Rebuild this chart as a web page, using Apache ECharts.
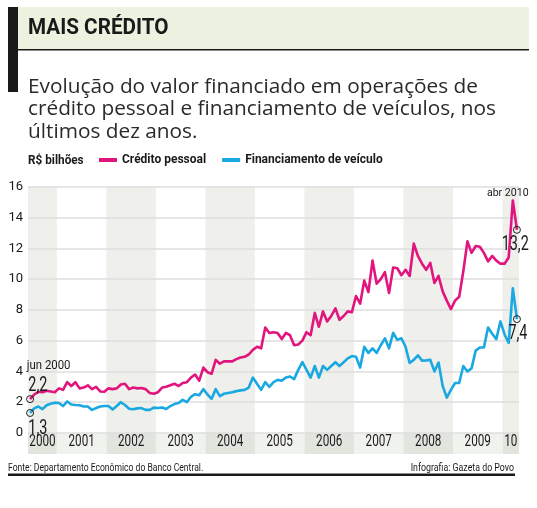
<!DOCTYPE html>
<html><head><meta charset="utf-8">
<script src="https://cdn.jsdelivr.net/npm/echarts@6/dist/echarts.min.js"></script>
<style>html,body{margin:0;padding:0;background:#fff}#c{width:537px;height:508px}</style>
</head><body><div id="c"></div>
<script>
// ---- data ----
const years = ['2000','2001','2002','2003','2004','2005','2006','2007','2008','2009','10'];
const monthsInYear = [7,12,12,12,12,12,12,12,12,12,4];
const firstLabel = 'jun 2000';
const lastLabel = 'abr 2010';
const creditoPessoal = [
  2.2, 2.5, 2.68, 2.65, 2.75, 2.7, 2.65,
  2.9, 2.8, 3.3, 3.05, 3.3, 2.9, 2.95, 3.1, 2.85, 3.0, 2.7, 2.68,
  2.9, 2.85, 2.9, 3.15, 3.2, 2.85, 2.95, 2.9, 2.92, 2.85, 2.6, 2.55,
  2.65, 2.95, 3.0, 3.1, 3.2, 3.05, 3.25, 3.3, 3.6, 3.8, 3.4, 4.25,
  3.95, 3.85, 4.75, 4.5, 4.65, 4.65, 4.65, 4.8, 4.9, 4.95, 5.1, 5.4,
  5.6, 5.5, 6.85, 6.5, 6.55, 6.5, 6.1, 6.5, 6.35, 5.7, 5.75, 6.0,
  6.55, 6.35, 7.8, 6.9, 7.9, 7.25, 7.6, 8.1, 7.35, 7.6, 7.9, 7.85,
  8.9, 8.4, 9.9, 9.15, 11.2, 9.7, 10.0, 10.45, 9.1, 10.75, 10.7, 10.25,
  10.6, 10.2, 12.3, 11.5, 11.0, 10.6, 11.05, 9.75, 10.2, 9.2, 8.6, 8.05,
  8.6, 8.85, 10.5, 12.45, 11.7, 12.15, 12.1, 11.7, 11.15, 11.5, 11.2, 11.0,
  11.0, 11.4, 15.1, 13.2
];
const financiamentoVeiculo = [
  1.3, 1.6, 1.72, 1.55, 1.8, 1.9, 1.97,
  1.95, 1.75, 2.05, 1.85, 1.82, 1.8, 1.72, 1.72, 1.5, 1.62, 1.72, 1.75,
  1.75, 1.52, 1.75, 2.0, 1.82, 1.58, 1.54, 1.6, 1.62, 1.5, 1.5, 1.65,
  1.62, 1.66, 1.56, 1.75, 1.88, 1.95, 2.15, 2.0, 2.35, 2.52, 2.45, 2.85,
  2.5, 2.22, 2.85, 2.4, 2.55, 2.6, 2.65, 2.72, 2.77, 2.8, 2.95, 3.6,
  3.2, 2.8, 3.3, 3.0, 3.3, 3.45, 3.4, 3.6, 3.67, 3.5, 4.1, 4.6,
  4.1, 3.6, 4.35, 3.6, 4.35, 4.1, 4.35, 4.6, 4.35, 4.6, 4.85, 5.0,
  4.95, 4.25, 5.6, 5.2, 5.5, 5.2, 5.7, 6.15, 5.5, 6.5, 6.05, 6.15,
  5.6, 4.55, 4.75, 5.05, 4.7, 4.72, 4.75, 4.0, 4.58, 3.05, 2.3, 2.8,
  3.25, 3.25, 4.35, 4.0, 4.2, 5.35, 5.55, 5.55, 6.85, 6.45, 6.1, 7.25,
  6.4, 5.85, 9.4, 7.4
];
const yMin = 0, yMax = 16, yStep = 2;

// ---- build ----
const F = "Roboto, sans-serif";
const INK = '#1a1a1a';
const PINK = '#e2147e', BLUE = '#1aa8e0';
const nMonths = monthsInYear.reduce((a, b) => a + b, 0);
const bands = []; let acc = 0;
monthsInYear.forEach((m, i) => { bands.push([acc, acc + m, i]); acc += m; });
const toXY = arr => arr.map((v, i) => [i + 0.5, v]);
const fmt = v => String(v).replace('.', ',');
const last = creditoPessoal.length - 1;

// end-point annotations (values taken from the series)
const annotPoints = [
  [0.5, creditoPessoal[0]],
  [0.5, financiamentoVeiculo[0]],
  [last + 0.5, creditoPessoal[last]],
  [last + 0.5, financiamentoVeiculo[last]]
];
const NUM = '20px ' + F;
const annotTexts = [
  [ { text: firstLabel, dx: -3.3, dy: -33, align: 'left', font: '12px ' + F, sx: 0.95 },
    { text: fmt(creditoPessoal[0]), dx: -1.7, dy: -12.8, align: 'left', font: NUM, sx: 0.72 } ],
  [ { text: fmt(financiamentoVeiculo[0]), dx: -1.7, dy: 16.2, align: 'left', font: NUM, sx: 0.72 } ],
  [ { text: lastLabel, dx: -9.2, dy: -36.4, align: 'center', font: '11.5px ' + F, sx: 0.92 },
    { text: fmt(creditoPessoal[last]), dx: -1.7, dy: 15.6, align: 'center', font: NUM, sx: 0.72 } ],
  [ { text: fmt(financiamentoVeiculo[last]), dx: 1, dy: 15.4, align: 'center', font: NUM, sx: 0.72 } ]
];

const gText = (text, x, y, font, sx, align) => ({
  type: 'text', x: x, y: y, scaleX: sx, silent: true, z: 5,
  style: { text: text, font: font, fill: INK, align: align || 'left', verticalAlign: 'middle' }
});

const chart = echarts.init(document.getElementById('c'), null, { renderer: 'canvas' });
chart.setOption({
  animation: false,
  backgroundColor: '#fff',
  graphic: [
    { type: 'rect', shape: { x: 18, y: 7, width: 511, height: 43 }, style: { fill: '#ebf2df' }, z: -10 },
    { type: 'rect', shape: { x: 18, y: 49, width: 511, height: 1.5 }, style: { fill: INK }, z: -9 },
    { type: 'rect', shape: { x: 8, y: 7, width: 10, height: 85 }, style: { fill: INK }, z: -9 },
    { type: 'rect', shape: { x: 8, y: 473.5, width: 507, height: 2.5 }, style: { fill: INK }, z: -9 },
    gText('MAIS CRÉDITO', 28, 28.7, 'bold 22px ' + F, 0.94),
    gText('R$ bilhões', 28, 160.5, 'bold 12px ' + F, 0.98),
    gText('Fonte: Departamento Econômico do Banco Central.', 8, 468.3, '11px ' + F, 0.78),
    gText('Infografia: Gazeta do Povo', 514, 468.3, '11px ' + F, 0.8, 'right')
  ],
  title: [
    { text: 'Evolução do valor financiado em operações de\ncrédito pessoal e financiamento de veículos, nos\núltimos dez anos.',
      left: 28, top: 76, padding: 0,
      textStyle: { fontFamily: "'Open Sans',sans-serif", fontWeight: 'normal', fontSize: 20.8, lineHeight: 22.3, color: '#2a2a2a' } }
  ],
  legend: {
    left: 99, top: 154, padding: 0, itemWidth: 18, itemHeight: 4, itemGap: 16, icon: 'rect',
    textStyle: { fontFamily: F, fontWeight: 'bold', fontSize: 12, color: INK },
    data: ['Crédito pessoal', 'Financiamento de veículo']
  },
  grid: [
    { left: 28, right: 18, top: 186.7, height: 246.3 },
    { left: 28, right: 18, top: 433, height: 21 }
  ],
  xAxis: [
    { type: 'value', gridIndex: 0, min: 0, max: nMonths, show: false },
    { type: 'value', gridIndex: 1, min: 0, max: nMonths, show: false }
  ],
  yAxis: [
    { type: 'value', gridIndex: 0, min: yMin, max: yMax, interval: yStep, z: 1,
      axisLine: { show: false }, axisTick: { show: false },
      splitLine: { lineStyle: { color: '#dedede', width: 1.5 } },
      axisLabel: { margin: 5, color: INK, fontSize: 13, fontFamily: F } },
    { type: 'value', gridIndex: 1, min: 0, max: 1, show: false }
  ],
  series: [
    { type: 'custom', name: 'bands', xAxisIndex: 0, yAxisIndex: 0, z: 0, silent: true,
      data: bands.filter(b => b[2] % 2 === 0),
      encode: { x: [0, 1] },
      renderItem: (params, api) => {
        const p0 = api.coord([api.value(0), yMax]);
        const p1 = api.coord([api.value(1), yMin]);
        return { type: 'rect', shape: { x: p0[0], y: p0[1], width: p1[0] - p0[0], height: p1[1] - p0[1] },
                 style: { fill: '#efefeb' } };
      } },
    { type: 'custom', name: 'strip', xAxisIndex: 1, yAxisIndex: 1, z: 0, silent: true,
      data: bands, encode: { x: [0, 1] },
      renderItem: (params, api) => {
        const idx = api.value(2);
        const p0 = api.coord([api.value(0), 1]);
        const p1 = api.coord([api.value(1), 0]);
        return { type: 'group', children: [
          { type: 'rect', shape: { x: p0[0], y: p0[1], width: p1[0] - p0[0], height: p1[1] - p0[1] },
            style: { fill: idx % 2 === 0 ? '#e1e5de' : '#f0f2ee' } },
          { type: 'text', x: (p0[0] + p1[0]) / 2, y: (p0[1] + p1[1]) / 2 - 1.5, scaleX: 0.73,
            style: { text: years[idx], fill: INK, font: '16px ' + F, align: 'center', verticalAlign: 'middle' } }
        ] };
      } },
    { type: 'line', name: 'Crédito pessoal', xAxisIndex: 0, yAxisIndex: 0, z: 3,
      data: toXY(creditoPessoal), symbol: 'none', showSymbol: false, color: PINK,
      lineStyle: { width: 2.6, color: PINK, join: 'round' } },
    { type: 'line', name: 'Financiamento de veículo', xAxisIndex: 0, yAxisIndex: 0, z: 3,
      data: toXY(financiamentoVeiculo), symbol: 'none', showSymbol: false, color: BLUE,
      lineStyle: { width: 2.6, color: BLUE, join: 'round' } },
    { type: 'custom', name: 'annotations', xAxisIndex: 0, yAxisIndex: 0, z: 4, silent: true,
      data: annotPoints, encode: { x: 0, y: 1 },
      renderItem: (params, api) => {
        const p = api.coord([api.value(0), api.value(1)]);
        const children = [
          { type: 'circle', shape: { cx: p[0], cy: p[1], r: 3.5 }, style: { fill: 'none', stroke: '#222', lineWidth: 1 } }
        ];
        annotTexts[params.dataIndex].forEach(t => children.push({
          type: 'text', x: p[0] + t.dx, y: p[1] + t.dy, scaleX: t.sx,
          style: { text: t.text, font: t.font, fill: INK, align: t.align, verticalAlign: 'middle' }
        }));
        return { type: 'group', children: children };
      } }
  ]
});
</script></body></html>
